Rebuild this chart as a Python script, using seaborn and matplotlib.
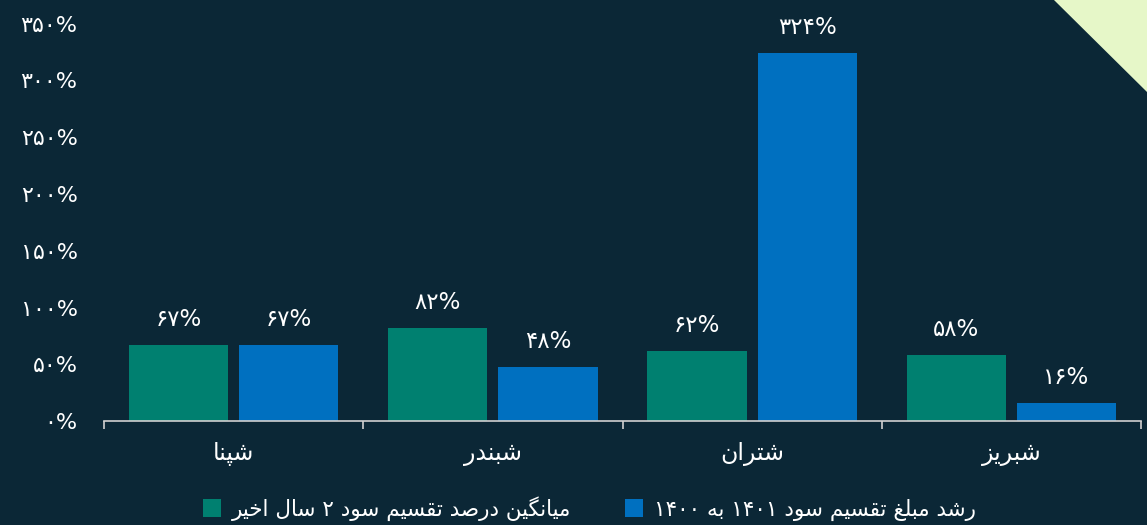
import re
import pandas as pd
import matplotlib
matplotlib.use('Agg')
import matplotlib.pyplot as plt
from matplotlib.ticker import FuncFormatter, FixedLocator
from matplotlib.patches import Polygon
import seaborn as sns

#########
# data
#########
companies = ['شپنا', 'شبندر', 'شتران', 'شبریز']
series_avg = 'میانگین درصد تقسیم سود ۲ سال اخیر'
series_growth = 'رشد مبلغ تقسیم سود ۱۴۰۱ به ۱۴۰۰'
avg_values = [67, 82, 62, 58]
growth_values = [67, 48, 324, 16]
y_ticks = [0, 50, 100, 150, 200, 250, 300, 350]

bg = '#0b2736'
green = '#008070'
blue = '#0070c0'
axis_col = '#d0d0d0'

#########
# minimal persian shaping (matplotlib has no bidi / joining)
#########
# isolated, final, initial, medial
FORMS = {
    'ا': ('\uFE8D', '\uFE8E', None, None),
    'ب': ('\uFE8F', '\uFE90', '\uFE91', '\uFE92'),
    'پ': ('\uFB56', '\uFB57', '\uFB58', '\uFB59'),
    'ت': ('\uFE95', '\uFE96', '\uFE97', '\uFE98'),
    'خ': ('\uFEA5', '\uFEA6', '\uFEA7', '\uFEA8'),
    'د': ('\uFEA9', '\uFEAA', None, None),
    'ر': ('\uFEAD', '\uFEAE', None, None),
    'ز': ('\uFEAF', '\uFEB0', None, None),
    'س': ('\uFEB1', '\uFEB2', '\uFEB3', '\uFEB4'),
    'ش': ('\uFEB5', '\uFEB6', '\uFEB7', '\uFEB8'),
    'ص': ('\uFEB9', '\uFEBA', '\uFEBB', '\uFEBC'),
    'غ': ('\uFECD', '\uFECE', '\uFECF', '\uFED0'),
    'ق': ('\uFED5', '\uFED6', '\uFED7', '\uFED8'),
    'گ': ('\uFB92', '\uFB93', '\uFB94', '\uFB95'),
    'ل': ('\uFEDD', '\uFEDE', '\uFEDF', '\uFEE0'),
    'م': ('\uFEE1', '\uFEE2', '\uFEE3', '\uFEE4'),
    'ن': ('\uFEE5', '\uFEE6', '\uFEE7', '\uFEE8'),
    'و': ('\uFEED', '\uFEEE', None, None),
    'ه': ('\uFEE9', '\uFEEA', '\uFEEB', '\uFEEC'),
    'ی': ('\uFBFC', '\uFBFD', '\uFBFE', '\uFBFF'),
}


def fa(text):
    out = []
    n = len(text)
    for i, ch in enumerate(text):
        if ch not in FORMS:
            out.append(ch)
            continue
        f = FORMS[ch]
        prev_j = i > 0 and text[i - 1] in FORMS and FORMS[text[i - 1]][2] is not None
        next_j = i + 1 < n and text[i + 1] in FORMS and f[2] is not None
        if prev_j and next_j:
            out.append(f[3])
        elif prev_j:
            out.append(f[1])
        elif next_j:
            out.append(f[2])
        else:
            out.append(f[0])
    vis = ''.join(out)[::-1]
    return re.sub(r'[۰-۹0-9]+', lambda m: m.group()[::-1], vis)


def fa_num(v):
    return str(int(round(v))).translate(str.maketrans('0123456789', '۰۱۲۳۴۵۶۷۸۹'))


df = pd.DataFrame({
    'company': [fa(c) for c in companies] * 2,
    'series': [fa(series_avg)] * 4 + [fa(series_growth)] * 4,
    'value': avg_values + growth_values,
})

#########
# plot
#########
plt.rcParams['font.family'] = ['DejaVu Sans']
fig, ax = plt.subplots(figsize=(11.47, 5.25), dpi=100)
fig.patch.set_facecolor(bg)
ax.set_facecolor(bg)
fig.subplots_adjust(left=104 / 1147, right=1141 / 1147, bottom=0.198, top=0.955)

sns.barplot(data=df, x='company', y='value', hue='series', palette=[green, blue],
            saturation=1, width=0.85, gap=0.1, ax=ax)

for cont, vals in zip(ax.containers, [avg_values, growth_values]):
    ax.bar_label(cont, labels=[fa_num(v) + '%' for v in vals], padding=10,
                 color='white', fontsize=16.5)

ax.set_xlim(-0.5, 3.5)
ax.set_ylim(0, 350)
ax.yaxis.set_major_locator(FixedLocator(y_ticks))
ax.yaxis.set_major_formatter(FuncFormatter(lambda v, p: fa_num(v) + '%'))
ax.tick_params(axis='y', length=0, pad=19, labelsize=16, labelcolor='white')
ax.tick_params(axis='x', which='major', length=0, pad=15, labelsize=17, labelcolor='white')
ax.xaxis.set_minor_locator(FixedLocator([-0.5, 0.5, 1.5, 2.5, 3.5]))
ax.tick_params(axis='x', which='minor', length=6, width=1.2, color=axis_col)
ax.set_xlabel('')
ax.set_ylabel('')
for s in ['top', 'right', 'left']:
    ax.spines[s].set_visible(False)
ax.spines['bottom'].set_color(axis_col)
ax.spines['bottom'].set_linewidth(1.2)

handles, labels = ax.get_legend_handles_labels()
ax.legend(handles, labels, loc='center', bbox_to_anchor=(0.514, 0.032),
          bbox_transform=fig.transFigure, ncol=2, frameon=False, fontsize=15.5,
          labelcolor='white', handlelength=0.85, handleheight=0.85,
          handletextpad=0.5, columnspacing=2.5)

# corner triangle
fig.patches.append(Polygon([(1054 / 1147, 1), (1, 1), (1, 1 - 92 / 525)], closed=True,
                           transform=fig.transFigure, facecolor='#e6f7c8',
                           edgecolor='none', zorder=5))

plt.savefig('out.png', dpi=100, facecolor=bg)
